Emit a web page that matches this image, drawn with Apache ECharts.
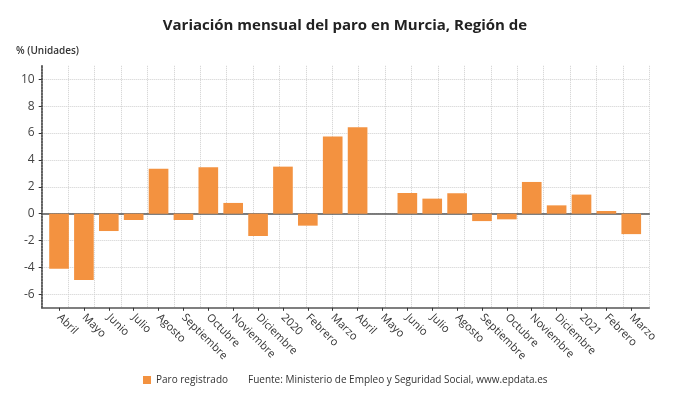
<!DOCTYPE html>
<html><head><meta charset="utf-8">
<script src="https://cdn.jsdelivr.net/npm/echarts@6/dist/echarts.min.js"></script>
<style>html,body{margin:0;padding:0;background:#fff}#c{width:690px;height:406px}</style>
</head><body><div id="c"></div>
<script>
const categories = ['Abril','Mayo','Junio','Julio','Agosto','Septiembre','Octubre','Noviembre','Diciembre','2020','Febrero','Marzo','Abril','Mayo','Junio','Julio','Agosto','Septiembre','Octubre','Noviembre','Diciembre','2021','Febrero','Marzo'];
const values = [-4.10,-4.94,-1.29,-0.47,3.35,-0.47,3.45,0.80,-1.66,3.50,-0.89,5.74,6.43,0.0,1.54,1.12,1.52,-0.55,-0.42,2.36,0.62,1.42,0.20,-1.52];
const yTicks = [-6,-4,-2,0,2,4,6,8,10];
const yMin = -7, yMax = 11;
const titleText = 'Variación mensual del paro en Murcia, Región de';
const unitText = '% (Unidades)';
const seriesName = 'Paro registrado';
const sourceText = 'Fuente: Ministerio de Empleo y Seguridad Social, www.epdata.es';

const FONT = '"Open Sans", "Noto Sans", sans-serif';
const chart = echarts.init(document.getElementById('c'), null, {renderer:'canvas'});
const TOP = 65.8, H = 242;
chart.setOption({
  animation: false,
  backgroundColor: '#fff',
  textStyle: {fontFamily: FONT},
  title: [
    {text: titleText, left: 'center', top: 18, padding: 0, textStyle: {fontFamily: FONT, fontSize: 15, fontWeight: 'bold', color: '#222'}},
    {text: unitText, left: 16, top: 46, padding: 0, textStyle: {fontFamily: FONT, fontSize: 10, fontWeight: 600, color: '#333'}},
    {text: sourceText, left: 248, top: 375, padding: 0, textStyle: {fontFamily: FONT, fontSize: 10, fontWeight: 'normal', color: '#333'}}
  ],
  legend: {
    left: 143, top: 375, padding: 0, itemWidth: 8, itemHeight: 8, icon: 'rect', itemGap: 10,
    textStyle: {fontFamily: FONT, fontSize: 10, color: '#333'},
    data: [seriesName]
  },
  grid: [
    {left: 46.6, top: TOP, width: 597.1, height: H},
    {left: 41.7, top: TOP, width: 607.6, height: H}
  ],
  xAxis: [
    {type: 'category', gridIndex: 0, data: categories, position: 'bottom',
     axisLine: {show: false, onZero: false},
     axisTick: {show: true, alignWithLabel: true, length: 3, lineStyle: {color: '#333'}},
     axisLabel: {interval: 0, rotate: -45, margin: 8, fontSize: 11, color: '#333', fontFamily: FONT},
     splitLine: {show: false}},
    {type: 'value', gridIndex: 1, min: 0, max: 23, interval: 1, position: 'bottom',
     axisLine: {show: true, onZero: false, lineStyle: {color: '#555', width: 1.5}},
     axisTick: {show: false}, axisLabel: {show: false},
     splitLine: {show: true, lineStyle: {color: '#cfcfcf', type: 'dotted', width: 1}}},
    {type: 'value', gridIndex: 1, min: 0, max: 1, position: 'bottom',
     axisLine: {show: true, onZero: true, lineStyle: {color: '#555', width: 1.5}},
     axisTick: {show: false}, axisLabel: {show: false}, splitLine: {show: false}}
  ],
  yAxis: [
    {type: 'value', gridIndex: 0, min: yMin, max: yMax, show: false, splitLine: {show: false}},
    {type: 'value', gridIndex: 1, min: yMin, max: yMax,
     axisLine: {show: true, lineStyle: {color: '#333', type: [2, 1], width: 1.5}},
     axisTick: {show: true, length: 3, customValues: yTicks, lineStyle: {color: '#333'}},
     axisLabel: {customValues: yTicks, fontSize: 12, color: '#444', margin: 7, fontFamily: FONT},
     splitLine: {show: true, lineStyle: {color: '#cfcfcf', type: 'dotted', width: 1}}}
  ],
  series: [{
    name: seriesName, type: 'bar', xAxisIndex: 0, yAxisIndex: 0,
    data: values, barCategoryGap: '21%',
    itemStyle: {color: '#F39240'}
  }]
});
</script></body></html>
